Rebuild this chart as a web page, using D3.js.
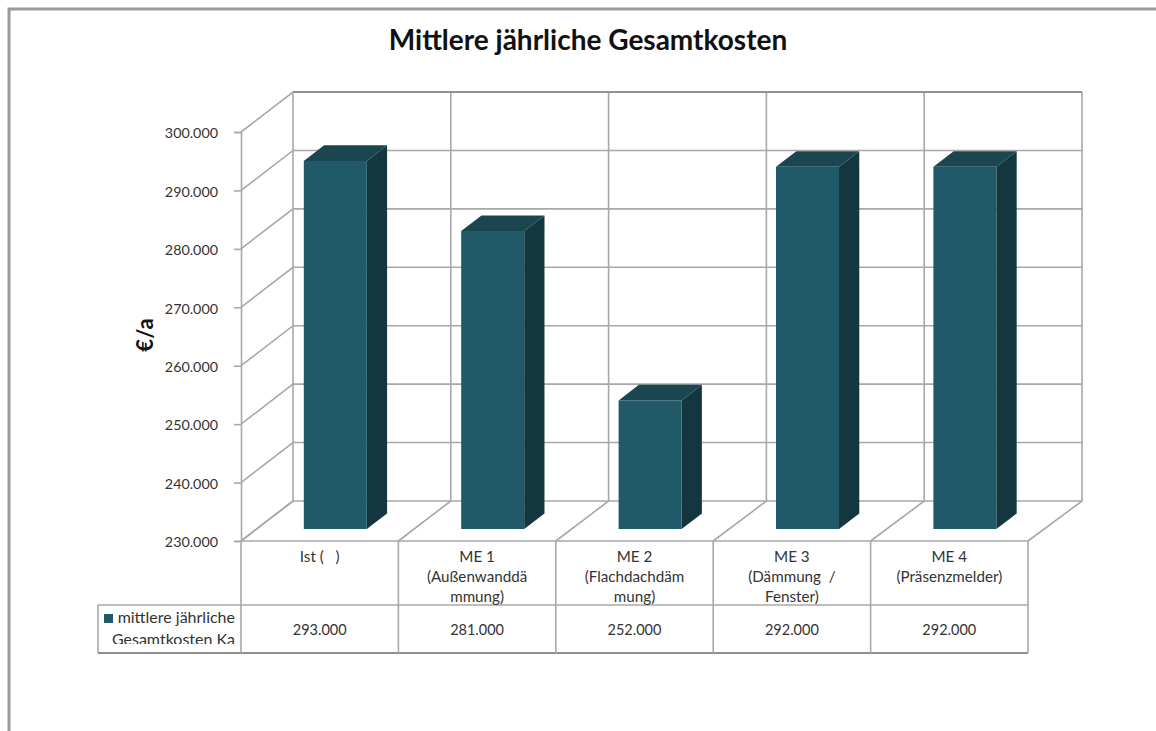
<!doctype html>
<html lang="de">

<head>
  <meta charset="utf-8">
  <title>Mittlere jährliche Gesamtkosten</title>
  <style>
    html, body { margin: 0; padding: 0; background: #fff; }
    svg { display: block; }
    text { font-family: Lato, "Open Sans", sans-serif; fill: #333; }
  </style>
</head>

<body>
  <svg width="1156" height="731"></svg>

  <script src="https://cdn.jsdelivr.net/npm/d3@7"></script>
  <script>
    var categories = ['Ist', 'ME 1', 'ME 2', 'ME 3', 'ME 4'];
    var categoryLines = [
      ['Ist (   )'],
      ['ME 1', '(Außenwanddä', 'mmung)'],
      ['ME 2', '(Flachdachdäm', 'mung)'],
      ['ME 3', '(Dämmung  /', 'Fenster)'],
      ['ME 4', '(Präsenzmelder)']
    ];
    var costs = [293000, 281000, 252000, 292000, 292000];
    var yTicks = [230000, 240000, 250000, 260000, 270000, 280000, 290000, 300000];
    var legendLines = ['mittlere jährliche', 'Gesamtkosten Ka'];

    var gridColor = '#a8a8a8';
    var frontColor = '#205a68', topColor = '#1a4650', sideColor = '#14363f';

    var svg = d3.select('svg');
    var fmt = d3.formatLocale({ decimal: ',', thousands: '.', grouping: [3], currency: ['', '€'] }).format(',d');

    // front edge of the floor and the back wall have slightly different spacing
    var x = d3.scaleBand().domain(categories).range([241, 1028]);
    var xBack = d3.scaleBand().domain(categories).range([293, 1082]);
    var y = d3.scaleLinear().domain([230000, 300000]).range([541, 132]);

    // oblique depth of the plot box
    var depthX = 52, depthY = -40;
    var rowTop = 541, rowMid = 605, rowBottom = 653, legendLeft = 98;

    // outer chart frame
    svg.append('path')
      .attr('d', 'M9,731V9H1156')
      .attr('fill', 'none')
      .attr('stroke', '#9a9a9a')
      .attr('stroke-width', 3);

    var grid = svg.append('g')
      .attr('fill', 'none')
      .attr('stroke', gridColor)
      .attr('stroke-width', 1.6);

    // horizontal lines, back wall and left wall
    grid.selectAll('.h').data(yTicks).enter()
      .append('path')
      .attr('d', function (t) {
        return 'M' + x.range()[0] + ',' + y(t) + 'L' + xBack.range()[0] + ',' + (y(t) + depthY) + 'H' + xBack.range()[1];
      });

    // vertical lines on the back wall, diagonals on the floor
    var bounds = categories.map(function (c) { return x(c); }).concat([x.range()[1]]);
    var backBounds = categories.map(function (c) { return xBack(c); }).concat([xBack.range()[1]]);
    grid.selectAll('.v').data(bounds).enter()
      .append('path')
      .attr('d', function (b, i) {
        return 'M' + b + ',' + y(230000) + 'L' + backBounds[i] + ',' + (y(230000) + depthY) + 'V' + (y(300000) + depthY);
      });

    // top edge of the back wall is a bit darker
    grid.append('path')
      .attr('d', 'M' + xBack.range()[0] + ',' + (y(300000) + depthY) + 'H' + xBack.range()[1])
      .attr('stroke', '#929292')
      .attr('stroke-width', 2);

    // value axis
    var axis = svg.append('g')
      .attr('transform', 'translate(' + x.range()[0] + ',0)')
      .call(d3.axisLeft(y).tickValues(yTicks).tickFormat(fmt).tickSize(7).tickPadding(16));
    axis.selectAll('path, line').attr('stroke', gridColor).attr('stroke-width', 1.6);
    axis.selectAll('text')
      .attr('font-size', 14.3)
      .attr('fill', '#333')
      .attr('font-family', 'Lato')
      .attr('dy', '0.4em');

    // 3D columns: offsets along the depth direction
    var barWidth = 63;
    var frontShift = 0.3, backShift = 0.69;
    var barLeft = function (c) { return x(c) + (x.bandwidth() - barWidth) / 2 + depthX * frontShift; };
    var floorY = function (v, shift) { return y(v) + depthY * shift; };
    var skewX = (backShift - frontShift) * depthX;
    var skewY = (backShift - frontShift) * depthY;

    var bars = svg.selectAll('.bar').data(categories).enter()
      .append('g')
      .attr('class', 'bar');

    bars.append('path')
      .attr('fill', sideColor)
      .attr('d', function (c, i) {
        var l = barLeft(c) + barWidth, t = floorY(costs[i], frontShift), b = floorY(230000, frontShift);
        return 'M' + l + ',' + t + 'l' + skewX + ',' + skewY + 'V' + (b + skewY) + 'L' + l + ',' + b + 'Z';
      });

    bars.append('path')
      .attr('fill', topColor)
      .attr('d', function (c, i) {
        var l = barLeft(c), t = floorY(costs[i], frontShift);
        return 'M' + l + ',' + t + 'l' + skewX + ',' + skewY + 'h' + barWidth + 'l' + (-skewX) + ',' + (-skewY) + 'Z';
      });

    bars.append('rect')
      .attr('fill', frontColor)
      .attr('x', barLeft)
      .attr('y', function (c, i) { return floorY(costs[i], frontShift); })
      .attr('width', barWidth)
      .attr('height', function (c, i) { return floorY(230000, frontShift) - floorY(costs[i], frontShift); });

    // data table under the plot
    var table = svg.append('g')
      .attr('fill', 'none')
      .attr('stroke', gridColor)
      .attr('stroke-width', 1.6);

    table.append('path').attr('d', 'M' + x.range()[0] + ',' + rowTop + 'H' + x.range()[1]);
    table.append('path').attr('d', 'M' + legendLeft + ',' + rowMid + 'H' + x.range()[1]);
    table.append('path').attr('d', 'M' + legendLeft + ',' + rowBottom + 'H' + x.range()[1]).attr('stroke', '#8f8f8f').attr('stroke-width', 2);
    table.append('path').attr('d', 'M' + legendLeft + ',' + rowMid + 'V' + rowBottom);
    table.selectAll('.col').data(bounds).enter()
      .append('path')
      .attr('d', function (b) { return 'M' + b + ',' + rowTop + 'V' + rowBottom; });

    // category labels are cut off by their cell
    var defs = svg.append('defs');
    defs.append('clipPath').attr('id', 'headerClip')
      .append('rect')
      .attr('x', x.range()[0]).attr('y', rowTop)
      .attr('width', x.range()[1] - x.range()[0]).attr('height', rowMid - rowTop);
    defs.append('clipPath').attr('id', 'legendClip')
      .append('rect')
      .attr('x', legendLeft).attr('y', rowMid)
      .attr('width', x.range()[0] - legendLeft - 4).attr('height', rowBottom - rowMid - 9);

    var header = svg.append('g')
      .attr('clip-path', 'url(#headerClip)')
      .attr('font-size', 15.2)
      .attr('text-anchor', 'middle');

    categories.forEach(function (c, i) {
      header.append('text')
        .attr('x', x(c) + x.bandwidth() / 2)
        .selectAll('tspan').data(categoryLines[i]).enter()
        .append('tspan')
        .attr('x', x(c) + x.bandwidth() / 2)
        .attr('y', function (d, j) { return rowTop + 21 + j * 20; })
        .style('white-space', 'pre')
        .text(function (d) { return d; });
    });

    svg.append('g').selectAll('text').data(costs).enter()
      .append('text')
      .attr('x', function (v, i) { return x(categories[i]) + x.bandwidth() / 2; })
      .attr('y', 635)
      .attr('text-anchor', 'middle')
      .attr('font-size', 14.5)
      .text(function (v) { return fmt(v); });

    // legend cell
    svg.append('rect')
      .attr('x', 104).attr('y', 614)
      .attr('width', 9).attr('height', 9)
      .attr('fill', frontColor);

    svg.append('g')
      .attr('clip-path', 'url(#legendClip)')
      .attr('font-size', 16)
      .selectAll('text').data(legendLines).enter()
      .append('text')
      .attr('x', 235)
      .attr('y', function (d, i) { return 623 + i * 22; })
      .attr('text-anchor', 'end')
      .text(function (d) { return d; });

    // titles
    svg.append('text')
      .attr('x', 588).attr('y', 50)
      .attr('text-anchor', 'middle')
      .attr('font-size', 28)
      .attr('font-weight', 700)
      .style('fill', '#111')
      .text('Mittlere jährliche Gesamtkosten');

    svg.append('text')
      .attr('transform', 'translate(153,335) rotate(-90)')
      .attr('text-anchor', 'middle')
      .attr('font-size', 22)
      .attr('font-weight', 700)
      .style('fill', '#111')
      .text('€/a');
  </script>
</body>

</html>
